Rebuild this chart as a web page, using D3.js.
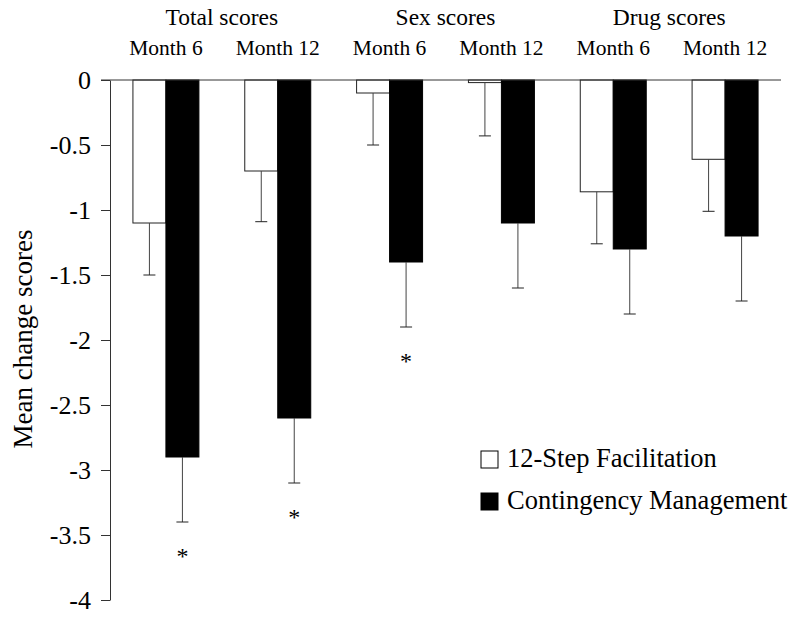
<!DOCTYPE html>
<html><head><meta charset="utf-8">
<script src="https://cdn.jsdelivr.net/npm/d3@7/dist/d3.min.js"></script>
<style>body{margin:0;background:#fff}svg{display:block}text{font-family:"Liberation Serif","Times New Roman",serif;fill:#000}</style>
</head><body><svg id="c" width="800" height="620" font-family="Liberation Serif"></svg>
<script>
const categories = ["Total M6","Total M12","Sex M6","Sex M12","Drug M6","Drug M12"];
const monthLabels = ["Month 6","Month 12","Month 6","Month 12","Month 6","Month 12"];
const groupLabels = ["Total scores","Sex scores","Drug scores"];
const series = ["12-Step Facilitation","Contingency Management"];
const tsfMean = [-1.1, -0.7, -0.1, -0.02, -0.86, -0.61];
const tsfErr  = [-1.5, -1.09, -0.5, -0.43, -1.26, -1.01];
const cmMean  = [-2.9, -2.6, -1.4, -1.1, -1.3, -1.2];
const cmErr   = [-3.4, -3.1, -1.9, -1.6, -1.8, -1.7];
const significant = [true, true, true, false, false, false];
const yTicks = [0,-0.5,-1,-1.5,-2,-2.5,-3,-3.5,-4];

const FONT = "Liberation Serif";
const svg = d3.select("#c");
const x0 = d3.scaleBand().domain(categories).range([110,781]).paddingInner(0.41).paddingOuter(0.205);
const x1 = d3.scaleBand().domain(series).range([0, x0.bandwidth()]);
const y = d3.scaleLinear().domain([-4,0]).range([600,80]);

const data = categories.map((c,i)=>({c, vals:[
  {s:series[0], v:tsfMean[i], e:tsfErr[i], fill:"#fff"},
  {s:series[1], v:cmMean[i], e:cmErr[i], fill:"#000"}]}));

// y axis
const yAxis = d3.axisLeft(y).tickValues(yTicks).tickFormat(d=>String(d)).tickSize(9).tickSizeOuter(0);
const ya = svg.append("g").attr("transform","translate(110,0)").call(yAxis);
ya.attr("font-family",FONT);
ya.select(".domain").attr("stroke","#333");
ya.selectAll(".tick line").attr("stroke","#333");
ya.selectAll(".tick text").attr("font-size",26).attr("font-family",FONT).attr("x",-19).attr("dy","0.34em");

// bars
const g = svg.append("g");
data.forEach(d=>{
  d.vals.forEach(b=>{
    const bx = x0(d.c)+x1(b.s);
    g.append("rect").attr("x",bx).attr("y",y(0)).attr("width",x1.bandwidth()).attr("height",y(b.v)-y(0))
      .attr("fill",b.fill).attr("stroke",b.fill==="#fff"?"#222":"#000").attr("stroke-width",1);
    const cx = bx + x1.bandwidth()/2;
    g.append("line").attr("x1",cx).attr("x2",cx).attr("y1",y(b.v)).attr("y2",y(b.e)).attr("stroke","#444");
    g.append("line").attr("x1",cx-6).attr("x2",cx+6).attr("y1",y(b.e)).attr("y2",y(b.e)).attr("stroke","#222");
  });
});
// zero line
svg.append("line").attr("x1",101).attr("x2",781).attr("y1",y(0)).attr("y2",y(0)).attr("stroke","#333");

// asterisks
categories.forEach((c,i)=>{
  if(!significant[i]) return;
  const cx = x0(c)+x1(series[1])+x1.bandwidth()/2;
  svg.append("text").attr("x",cx).attr("y",y(cmErr[i])+42).attr("text-anchor","middle")
    .attr("font-family",FONT).attr("font-size",24).text("*");
});

// month labels
categories.forEach((c,i)=>{
  svg.append("text").attr("x",x0(c)+x0.bandwidth()/2).attr("y",55).attr("text-anchor","middle")
    .attr("font-family",FONT).attr("font-size",21.5).text(monthLabels[i]);
});
// group labels
groupLabels.forEach((t,k)=>{
  const a = categories[2*k], b = categories[2*k+1];
  const cx = (x0(a)+x0(b)+x0.bandwidth())/2;
  svg.append("text").attr("x",cx).attr("y",25).attr("text-anchor","middle")
    .attr("font-family",FONT).attr("font-size",23.5).text(t);
});

// y title
svg.append("text").attr("transform","translate(32,339) rotate(-90)").attr("text-anchor","middle")
  .attr("font-family",FONT).attr("font-size",27).text("Mean change scores");

// legend
const lg = svg.append("g");
series.forEach((s,i)=>{
  const yy = 451 + i*42;
  lg.append("rect").attr("x",481).attr("y",yy).attr("width",17).attr("height",17)
    .attr("fill",i===0?"#fff":"#000").attr("stroke","#000");
  lg.append("text").attr("x",507).attr("y",yy+16).attr("font-family",FONT).attr("font-size",26.5).text(s);
});
</script></body></html>
